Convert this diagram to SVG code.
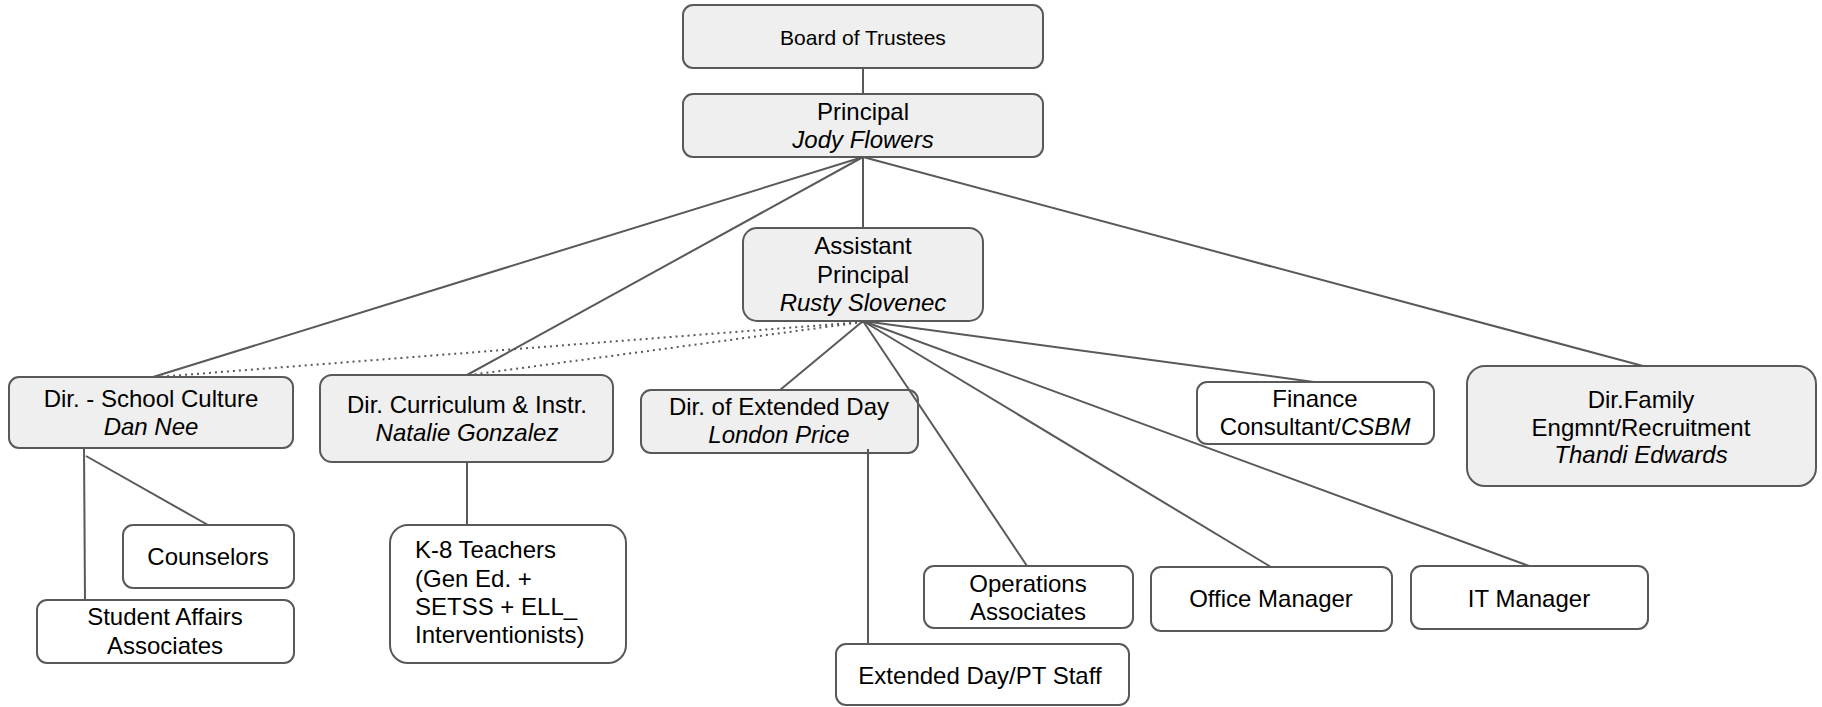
<svg xmlns="http://www.w3.org/2000/svg" width="1822" height="707" viewBox="0 0 1822 707">
<style>
  .box { fill: #ffffff; stroke: #595959; stroke-width: 2; }
  .grey { fill: #efefef; }
  .t { font-family: "Liberation Sans", Arial, sans-serif; font-size: 24px; fill: #000000; text-anchor: middle; }
  .l { text-anchor: start; }
  .i { font-style: italic; }
  .con { stroke: #595959; stroke-width: 2; fill: none; }
  .dot { stroke: #595959; stroke-width: 2; fill: none; stroke-dasharray: 2 4; }
</style>
<rect width="1822" height="707" fill="#ffffff"/>
<g id="nodes">
  <g id="board">
    <rect class="box grey" x="683" y="5" width="360" height="63" rx="10"/>
    <text class="t" x="863" y="45" style="font-size:21px">Board of Trustees</text>
  </g>
  <g id="principal">
    <rect class="box grey" x="683" y="94" width="360" height="63" rx="10"/>
    <text class="t" x="863" y="120">Principal</text>
    <text class="t i" x="863" y="148">Jody Flowers</text>
  </g>
  <g id="assistant-principal">
    <rect class="box grey" x="743" y="228" width="240" height="93" rx="14"/>
    <text class="t" x="863" y="254">Assistant</text>
    <text class="t" x="863" y="283">Principal</text>
    <text class="t i" x="863" y="311">Rusty Slovenec</text>
  </g>
  <g id="dir-school-culture">
    <rect class="box grey" x="9" y="377" width="284" height="71" rx="10"/>
    <text class="t" x="151" y="407">Dir. - School Culture</text>
    <text class="t i" x="151" y="435">Dan Nee</text>
  </g>
  <g id="dir-curriculum">
    <rect class="box grey" x="320" y="375" width="293" height="87" rx="12"/>
    <text class="t" x="467" y="413">Dir. Curriculum &amp; Instr.</text>
    <text class="t i" x="467" y="441">Natalie Gonzalez</text>
  </g>
  <g id="dir-extended-day">
    <rect class="box grey" x="641" y="390" width="277" height="63" rx="10"/>
    <text class="t" x="779" y="415">Dir. of Extended Day</text>
    <text class="t i" x="779" y="443">London Price</text>
  </g>
  <g id="finance">
    <rect class="box" x="1197" y="382" width="237" height="62" rx="10"/>
    <text class="t" x="1315" y="407">Finance</text>
    <text class="t" x="1315" y="435">Consultant/<tspan class="i">CSBM</tspan></text>
  </g>
  <g id="dir-family">
    <rect class="box grey" x="1467" y="366" width="349" height="120" rx="18"/>
    <text class="t" x="1641" y="408">Dir.Family</text>
    <text class="t" x="1641" y="436">Engmnt/Recruitment</text>
    <text class="t i" x="1641" y="463">Thandi Edwards</text>
  </g>
  <g id="counselors">
    <rect class="box" x="123" y="525" width="171" height="63" rx="10"/>
    <text class="t" x="208" y="565">Counselors</text>
  </g>
  <g id="student-affairs">
    <rect class="box" x="37" y="600" width="257" height="63" rx="10"/>
    <text class="t" x="165" y="625">Student Affairs</text>
    <text class="t" x="165" y="654">Associates</text>
  </g>
  <g id="k8-teachers">
    <rect class="box" x="390" y="525" width="236" height="138" rx="18"/>
    <text class="t l" x="415" y="558">K-8 Teachers</text>
    <text class="t l" x="415" y="587">(Gen Ed. +</text>
    <text class="t l" x="415" y="615">SETSS + ELL_</text>
    <text class="t l" x="415" y="643">Interventionists)</text>
  </g>
  <g id="extended-day-staff">
    <rect class="box" x="836" y="644" width="293" height="61" rx="10"/>
    <text class="t" x="980" y="684">Extended Day/PT Staff</text>
  </g>
  <g id="operations">
    <rect class="box" x="924" y="566" width="209" height="62" rx="10"/>
    <text class="t" x="1028" y="592">Operations</text>
    <text class="t" x="1028" y="620">Associates</text>
  </g>
  <g id="office-manager">
    <rect class="box" x="1151" y="567" width="241" height="64" rx="10"/>
    <text class="t" x="1271" y="607">Office Manager</text>
  </g>
  <g id="it-manager">
    <rect class="box" x="1411" y="566" width="237" height="63" rx="10"/>
    <text class="t" x="1529" y="607">IT Manager</text>
  </g>
</g>
<g id="connectors">
  <line class="con" x1="863" y1="68" x2="863" y2="94"/>
  <line class="con" x1="863" y1="157" x2="153" y2="377"/>
  <line class="con" x1="863" y1="157" x2="467" y2="375"/>
  <line class="con" x1="863" y1="157" x2="863" y2="228"/>
  <line class="con" x1="863" y1="157" x2="1643" y2="366"/>
  <line class="dot" x1="863" y1="322" x2="157" y2="377"/>
  <line class="dot" x1="863" y1="322" x2="470" y2="375"/>
  <line class="con" x1="863" y1="321" x2="780" y2="390"/>
  <line class="con" x1="863" y1="321" x2="1027" y2="566"/>
  <line class="con" x1="863" y1="321" x2="1271" y2="567"/>
  <line class="con" x1="863" y1="321" x2="1529" y2="566"/>
  <line class="con" x1="863" y1="321" x2="1314" y2="382"/>
  <line class="con" x1="84" y1="448" x2="85" y2="600"/>
  <line class="con" x1="86" y1="456" x2="208" y2="525"/>
  <line class="con" x1="467" y1="462" x2="467" y2="525"/>
  <line class="con" x1="868" y1="449" x2="868" y2="644"/>
</g>
</svg>
